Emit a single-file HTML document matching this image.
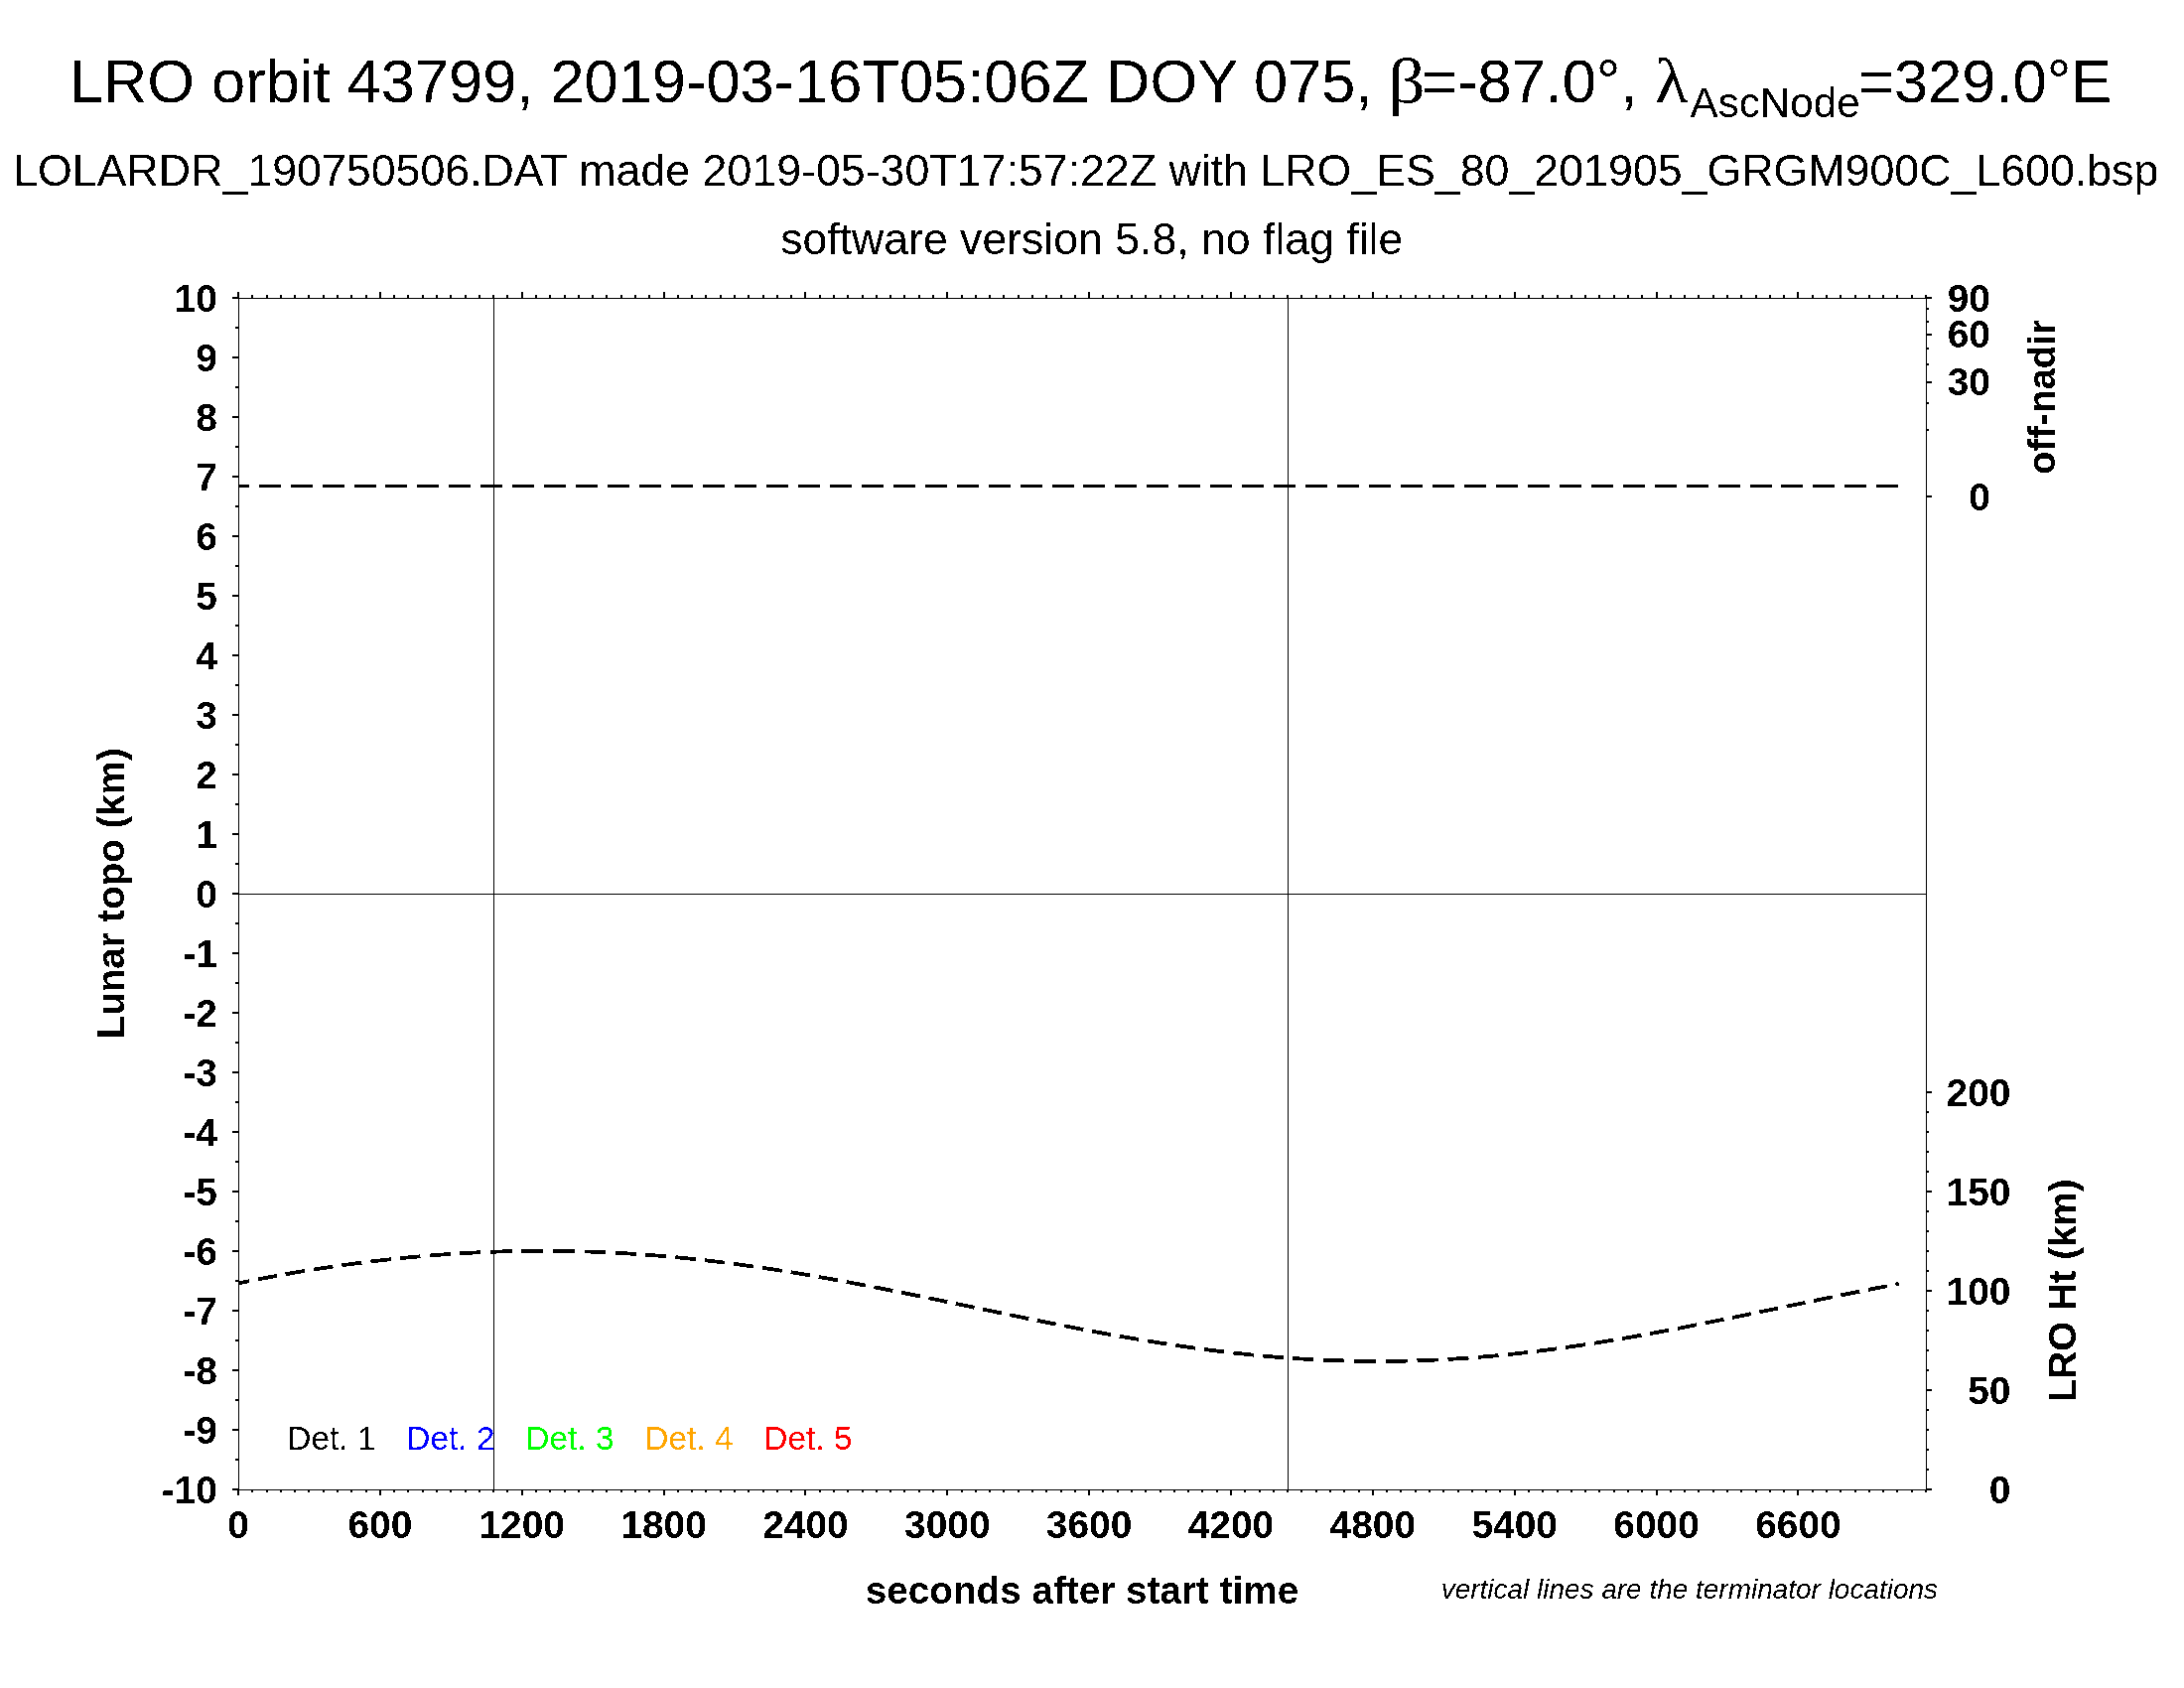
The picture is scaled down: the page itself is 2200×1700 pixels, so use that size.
<!DOCTYPE html>
<html lang="en"><head><meta charset="utf-8">
<title>LRO orbit 43799 LOLA RDR profile</title>
<style>
html,body{margin:0;padding:0;background:#fff;}
body{width:2200px;height:1700px;overflow:hidden;}
svg{display:block;}
text{font-family:"Liberation Sans", sans-serif;fill:#000;}
.b{font-weight:bold;font-size:38.9px;}
.sym{font-family:"Liberation Serif", serif;}
.r{font-size:38.5px;}
</style></head><body>
<svg width="2200" height="1700" viewBox="0 0 2200 1700">
<rect x="0" y="0" width="2200" height="1700" fill="#fff"/>
<g stroke="#000" stroke-width="1" fill="none" shape-rendering="crispEdges">
<rect x="240.5" y="300.5" width="1700" height="1200"/>
<line x1="240.5" y1="900.5" x2="1940.5" y2="900.5"/>
<line x1="497.5" y1="300.5" x2="497.5" y2="1500.5"/>
<line x1="1297.5" y1="300.5" x2="1297.5" y2="1500.5"/>
</g>
<g stroke="#000" stroke-width="2" shape-rendering="crispEdges">
<path d="M240 300.5L240 294M240 1500.5L240 1506M254 300.5L254 297M254 1500.5L254 1503M269 300.5L269 297M269 1500.5L269 1503M283 300.5L283 297M283 1500.5L283 1503M297 300.5L297 297M297 1500.5L297 1503M311 300.5L311 297M311 1500.5L311 1503M326 300.5L326 297M326 1500.5L326 1503M340 300.5L340 297M340 1500.5L340 1503M354 300.5L354 297M354 1500.5L354 1503M369 300.5L369 297M369 1500.5L369 1503M383 300.5L383 294M383 1500.5L383 1506M397 300.5L397 297M397 1500.5L397 1503M411 300.5L411 297M411 1500.5L411 1503M426 300.5L426 297M426 1500.5L426 1503M440 300.5L440 297M440 1500.5L440 1503M454 300.5L454 297M454 1500.5L454 1503M469 300.5L469 297M469 1500.5L469 1503M483 300.5L483 297M483 1500.5L483 1503M497 300.5L497 297M497 1500.5L497 1503M511 300.5L511 297M511 1500.5L511 1503M526 300.5L526 294M526 1500.5L526 1506M540 300.5L540 297M540 1500.5L540 1503M554 300.5L554 297M554 1500.5L554 1503M569 300.5L569 297M569 1500.5L569 1503M583 300.5L583 297M583 1500.5L583 1503M597 300.5L597 297M597 1500.5L597 1503M611 300.5L611 297M611 1500.5L611 1503M626 300.5L626 297M626 1500.5L626 1503M640 300.5L640 297M640 1500.5L640 1503M654 300.5L654 297M654 1500.5L654 1503M669 300.5L669 294M669 1500.5L669 1506M683 300.5L683 297M683 1500.5L683 1503M697 300.5L697 297M697 1500.5L697 1503M711 300.5L711 297M711 1500.5L711 1503M726 300.5L726 297M726 1500.5L726 1503M740 300.5L740 297M740 1500.5L740 1503M754 300.5L754 297M754 1500.5L754 1503M769 300.5L769 297M769 1500.5L769 1503M783 300.5L783 297M783 1500.5L783 1503M797 300.5L797 297M797 1500.5L797 1503M811 300.5L811 294M811 1500.5L811 1506M826 300.5L826 297M826 1500.5L826 1503M840 300.5L840 297M840 1500.5L840 1503M854 300.5L854 297M854 1500.5L854 1503M869 300.5L869 297M869 1500.5L869 1503M883 300.5L883 297M883 1500.5L883 1503M897 300.5L897 297M897 1500.5L897 1503M911 300.5L911 297M911 1500.5L911 1503M926 300.5L926 297M926 1500.5L926 1503M940 300.5L940 297M940 1500.5L940 1503M954 300.5L954 294M954 1500.5L954 1506M969 300.5L969 297M969 1500.5L969 1503M983 300.5L983 297M983 1500.5L983 1503M997 300.5L997 297M997 1500.5L997 1503M1011 300.5L1011 297M1011 1500.5L1011 1503M1026 300.5L1026 297M1026 1500.5L1026 1503M1040 300.5L1040 297M1040 1500.5L1040 1503M1054 300.5L1054 297M1054 1500.5L1054 1503M1069 300.5L1069 297M1069 1500.5L1069 1503M1083 300.5L1083 297M1083 1500.5L1083 1503M1097 300.5L1097 294M1097 1500.5L1097 1506M1111 300.5L1111 297M1111 1500.5L1111 1503M1126 300.5L1126 297M1126 1500.5L1126 1503M1140 300.5L1140 297M1140 1500.5L1140 1503M1154 300.5L1154 297M1154 1500.5L1154 1503M1169 300.5L1169 297M1169 1500.5L1169 1503M1183 300.5L1183 297M1183 1500.5L1183 1503M1197 300.5L1197 297M1197 1500.5L1197 1503M1211 300.5L1211 297M1211 1500.5L1211 1503M1226 300.5L1226 297M1226 1500.5L1226 1503M1240 300.5L1240 294M1240 1500.5L1240 1506M1254 300.5L1254 297M1254 1500.5L1254 1503M1269 300.5L1269 297M1269 1500.5L1269 1503M1283 300.5L1283 297M1283 1500.5L1283 1503M1297 300.5L1297 297M1297 1500.5L1297 1503M1311 300.5L1311 297M1311 1500.5L1311 1503M1326 300.5L1326 297M1326 1500.5L1326 1503M1340 300.5L1340 297M1340 1500.5L1340 1503M1354 300.5L1354 297M1354 1500.5L1354 1503M1369 300.5L1369 297M1369 1500.5L1369 1503M1383 300.5L1383 294M1383 1500.5L1383 1506M1397 300.5L1397 297M1397 1500.5L1397 1503M1411 300.5L1411 297M1411 1500.5L1411 1503M1426 300.5L1426 297M1426 1500.5L1426 1503M1440 300.5L1440 297M1440 1500.5L1440 1503M1454 300.5L1454 297M1454 1500.5L1454 1503M1469 300.5L1469 297M1469 1500.5L1469 1503M1483 300.5L1483 297M1483 1500.5L1483 1503M1497 300.5L1497 297M1497 1500.5L1497 1503M1511 300.5L1511 297M1511 1500.5L1511 1503M1526 300.5L1526 294M1526 1500.5L1526 1506M1540 300.5L1540 297M1540 1500.5L1540 1503M1554 300.5L1554 297M1554 1500.5L1554 1503M1569 300.5L1569 297M1569 1500.5L1569 1503M1583 300.5L1583 297M1583 1500.5L1583 1503M1597 300.5L1597 297M1597 1500.5L1597 1503M1611 300.5L1611 297M1611 1500.5L1611 1503M1626 300.5L1626 297M1626 1500.5L1626 1503M1640 300.5L1640 297M1640 1500.5L1640 1503M1654 300.5L1654 297M1654 1500.5L1654 1503M1669 300.5L1669 294M1669 1500.5L1669 1506M1683 300.5L1683 297M1683 1500.5L1683 1503M1697 300.5L1697 297M1697 1500.5L1697 1503M1711 300.5L1711 297M1711 1500.5L1711 1503M1726 300.5L1726 297M1726 1500.5L1726 1503M1740 300.5L1740 297M1740 1500.5L1740 1503M1754 300.5L1754 297M1754 1500.5L1754 1503M1769 300.5L1769 297M1769 1500.5L1769 1503M1783 300.5L1783 297M1783 1500.5L1783 1503M1797 300.5L1797 297M1797 1500.5L1797 1503M1811 300.5L1811 294M1811 1500.5L1811 1506M1826 300.5L1826 297M1826 1500.5L1826 1503M1840 300.5L1840 297M1840 1500.5L1840 1503M1854 300.5L1854 297M1854 1500.5L1854 1503M1869 300.5L1869 297M1869 1500.5L1869 1503M1883 300.5L1883 297M1883 1500.5L1883 1503M1897 300.5L1897 297M1897 1500.5L1897 1503M1911 300.5L1911 297M1911 1500.5L1911 1503M1926 300.5L1926 297M1926 1500.5L1926 1503M1940 300.5L1940 297M1940 1500.5L1940 1503M240.5 1500L234 1500M240.5 1470L237 1470M240.5 1440L234 1440M240.5 1410L237 1410M240.5 1380L234 1380M240.5 1350L237 1350M240.5 1320L234 1320M240.5 1290L237 1290M240.5 1260L234 1260M240.5 1230L237 1230M240.5 1200L234 1200M240.5 1170L237 1170M240.5 1140L234 1140M240.5 1110L237 1110M240.5 1080L234 1080M240.5 1050L237 1050M240.5 1020L234 1020M240.5 990L237 990M240.5 960L234 960M240.5 930L237 930M240.5 900L234 900M240.5 870L237 870M240.5 840L234 840M240.5 810L237 810M240.5 780L234 780M240.5 750L237 750M240.5 720L234 720M240.5 690L237 690M240.5 660L234 660M240.5 630L237 630M240.5 600L234 600M240.5 570L237 570M240.5 540L234 540M240.5 510L237 510M240.5 480L234 480M240.5 450L237 450M240.5 420L234 420M240.5 390L237 390M240.5 360L234 360M240.5 330L237 330M240.5 300L234 300M1940.5 1500L1946 1500M1940.5 1480L1943 1480M1940.5 1460L1943 1460M1940.5 1440L1943 1440M1940.5 1420L1943 1420M1940.5 1400L1946 1400M1940.5 1380L1943 1380M1940.5 1360L1943 1360M1940.5 1340L1943 1340M1940.5 1320L1943 1320M1940.5 1300L1946 1300M1940.5 1280L1943 1280M1940.5 1260L1943 1260M1940.5 1240L1943 1240M1940.5 1220L1943 1220M1940.5 1200L1946 1200M1940.5 1180L1943 1180M1940.5 1160L1943 1160M1940.5 1140L1943 1140M1940.5 1120L1943 1120M1940.5 1100L1946 1100M1940.5 500L1946 500M1940.5 433L1943 433M1940.5 406L1943 406M1940.5 385L1946 385M1940.5 367L1943 367M1940.5 351L1943 351M1940.5 337L1946 337M1940.5 324L1943 324M1940.5 311L1943 311M1940.5 300L1946 300"/>
</g>
<g stroke="#000" stroke-width="3" fill="none" stroke-dasharray="22 9.955" shape-rendering="crispEdges">
<line x1="240" y1="489.5" x2="1912.2" y2="489.5" stroke-dashoffset="11.3"/>
</g>
<path d="M240.5 1292.31L245.85 1291.21L251.22 1290.13M259.79 1288.43L266.14 1287.21L272.51 1286.01L278.89 1284.83M287.6 1283.27L294.04 1282.15L300.5 1281.05L306.98 1279.97M315.81 1278.55L322.34 1277.53L328.9 1276.53L335.47 1275.56M344.43 1274.28L351.06 1273.37L357.7 1272.48L364.37 1271.62M373.46 1270.49L380.19 1269.7L386.93 1268.92L393.7 1268.18M402.93 1267.22L409.75 1266.54L416.6 1265.89L423.47 1265.27M432.84 1264.48L439.76 1263.93L446.72 1263.42L453.69 1262.94M463.21 1262.33L470.24 1261.92L477.3 1261.55L484.39 1261.21M494.06 1260.81L501.2 1260.55L508.38 1260.33L515.58 1260.15M525.4 1259.96L532.67 1259.86L539.96 1259.8L547.28 1259.78M557.21 1259.82L564.49 1259.89L571.75 1260L578.98 1260.15M588.75 1260.41L595.91 1260.64L603.05 1260.91L610.16 1261.22M619.78 1261.69L626.83 1262.08L633.85 1262.5L640.85 1262.95M650.32 1263.62L657.26 1264.15L664.18 1264.71L671.07 1265.3M680.39 1266.15L687.23 1266.81L694.04 1267.49L700.83 1268.21M710.02 1269.22L716.76 1270L723.48 1270.81L730.17 1271.64M739.23 1272.8L745.88 1273.68L752.51 1274.59L759.13 1275.52M768.07 1276.82L774.64 1277.79L781.19 1278.79L787.72 1279.81M796.57 1281.22L803.06 1282.28L809.54 1283.36L816.01 1284.45M824.76 1285.96L831.19 1287.09L837.61 1288.24L844.01 1289.4M852.69 1290.99L859.07 1292.18L865.44 1293.38L871.79 1294.59M880.41 1296.25L886.74 1297.48L893.07 1298.72L899.38 1299.98M907.95 1301.69L914.25 1302.95L920.55 1304.23L926.83 1305.51M935.37 1307.25L941.64 1308.55L947.92 1309.84L954.19 1311.14M962.7 1312.9L968.97 1314.21L975.24 1315.51L981.51 1316.82M990.01 1318.59L996.28 1319.89L1002.55 1321.19L1008.82 1322.49M1017.34 1324.25L1023.62 1325.54L1029.9 1326.83L1036.19 1328.11M1044.73 1329.84L1051.03 1331.11L1057.34 1332.38L1063.65 1333.63M1072.24 1335.32L1078.57 1336.55L1084.92 1337.78L1091.27 1338.99M1099.91 1340.62L1106.29 1341.81L1112.68 1342.98L1119.09 1344.14M1127.8 1345.69L1134.24 1346.82L1140.69 1347.93L1147.15 1349.02M1155.95 1350.48L1162.46 1351.53L1168.98 1352.56L1175.51 1353.58M1184.42 1354.92L1191 1355.88L1197.6 1356.82L1204.22 1357.74M1213.24 1358.95L1219.91 1359.81L1226.6 1360.65L1233.32 1361.46M1242.47 1362.51L1249.24 1363.25L1256.03 1363.97L1262.85 1364.65M1272.15 1365.53L1279.02 1366.14L1285.93 1366.72L1292.86 1367.26M1302.31 1367.94L1309.3 1368.41L1316.32 1368.83L1323.37 1369.22M1332.99 1369.69L1340.11 1369.99L1347.26 1370.24L1354.43 1370.46M1364.22 1370.69L1371.47 1370.81L1378.75 1370.89L1386.06 1370.93M1395.99 1370.91L1403.28 1370.84L1410.54 1370.73L1417.76 1370.58M1427.52 1370.31L1434.68 1370.06L1441.8 1369.77L1448.9 1369.44M1458.49 1368.93L1465.51 1368.52L1472.51 1368.06L1479.49 1367.57M1488.91 1366.85L1495.82 1366.28L1502.7 1365.68L1509.55 1365.04M1518.82 1364.13L1525.62 1363.42L1532.39 1362.68L1539.14 1361.91M1548.26 1360.82L1554.96 1359.99L1561.63 1359.13L1568.28 1358.24M1577.27 1357L1583.87 1356.06L1590.45 1355.1L1597.02 1354.11M1605.9 1352.74L1612.41 1351.71L1618.92 1350.66L1625.4 1349.59M1634.18 1348.1L1640.63 1346.99L1647.07 1345.87L1653.49 1344.73M1662.18 1343.15L1668.57 1341.98L1674.95 1340.79L1681.32 1339.59M1689.95 1337.95L1696.29 1336.72L1702.63 1335.49L1708.95 1334.25M1717.53 1332.55L1723.84 1331.29L1730.14 1330.02L1736.44 1328.75M1744.98 1327.01L1751.26 1325.73L1757.54 1324.44L1763.82 1323.15M1772.34 1321.39L1778.61 1320.09L1784.89 1318.79L1791.16 1317.49M1799.67 1315.73L1805.94 1314.43L1812.21 1313.13L1818.49 1311.83M1827.01 1310.08L1833.29 1308.79L1839.57 1307.5L1845.85 1306.21M1854.39 1304.47L1860.68 1303.2L1866.98 1301.93L1873.29 1300.66M1881.85 1298.95L1888.17 1297.7L1894.49 1296.45L1900.82 1295.21M1909.42 1293.54L1912.6 1292.93" stroke="#000" stroke-width="3.8" fill="none" shape-rendering="crispEdges"/>
<defs><filter id="hard" filterUnits="userSpaceOnUse" x="0" y="0" width="2200" height="1700" color-interpolation-filters="sRGB"><feComponentTransfer><feFuncA type="discrete" tableValues="0 1"/></feComponentTransfer></filter></defs>
<g filter="url(#hard)">
<text x="69.8" y="103" font-size="61.4">LRO orbit 43799, 2019-03-16T05:06Z DOY 075,</text>
<text class="sym" transform="translate(1397.9 103.4) scale(1.169 1)" font-size="63.5">β</text>
<text x="1432.1" y="103" font-size="61.4">=-87.0°,</text>
<text class="sym" transform="translate(1667 103.4) scale(1.085 1)" font-size="64">λ</text>
<text x="1702.5" y="118.3" font-size="42.2">AscNode</text>
<text x="1872.2" y="103" font-size="61.4">=329.0°E</text>
<text x="13.2" y="186.9" font-size="44.72">LOLARDR_190750506.DAT made 2019-05-30T17:57:22Z with LRO_ES_80_201905_GRGM900C_L600.bsp</text>
<text x="786.2" y="255.8" font-size="44.6">software version 5.8, no flag file</text>
<text class="b" x="219" y="1513.7" text-anchor="end">-10</text>
<text class="b" x="219" y="1453.7" text-anchor="end">-9</text>
<text class="b" x="219" y="1393.7" text-anchor="end">-8</text>
<text class="b" x="219" y="1333.7" text-anchor="end">-7</text>
<text class="b" x="219" y="1273.7" text-anchor="end">-6</text>
<text class="b" x="219" y="1213.7" text-anchor="end">-5</text>
<text class="b" x="219" y="1153.7" text-anchor="end">-4</text>
<text class="b" x="219" y="1093.7" text-anchor="end">-3</text>
<text class="b" x="219" y="1033.7" text-anchor="end">-2</text>
<text class="b" x="219" y="973.7" text-anchor="end">-1</text>
<text class="b" x="219" y="913.7" text-anchor="end">0</text>
<text class="b" x="219" y="853.7" text-anchor="end">1</text>
<text class="b" x="219" y="793.7" text-anchor="end">2</text>
<text class="b" x="219" y="733.7" text-anchor="end">3</text>
<text class="b" x="219" y="673.7" text-anchor="end">4</text>
<text class="b" x="219" y="613.7" text-anchor="end">5</text>
<text class="b" x="219" y="553.7" text-anchor="end">6</text>
<text class="b" x="219" y="493.7" text-anchor="end">7</text>
<text class="b" x="219" y="433.7" text-anchor="end">8</text>
<text class="b" x="219" y="373.7" text-anchor="end">9</text>
<text class="b" x="219" y="313.7" text-anchor="end">10</text>
<text class="b" x="240" y="1549" text-anchor="middle">0</text>
<text class="b" x="382.86" y="1549" text-anchor="middle">600</text>
<text class="b" x="525.71" y="1549" text-anchor="middle">1200</text>
<text class="b" x="668.57" y="1549" text-anchor="middle">1800</text>
<text class="b" x="811.43" y="1549" text-anchor="middle">2400</text>
<text class="b" x="954.29" y="1549" text-anchor="middle">3000</text>
<text class="b" x="1097.14" y="1549" text-anchor="middle">3600</text>
<text class="b" x="1240" y="1549" text-anchor="middle">4200</text>
<text class="b" x="1382.86" y="1549" text-anchor="middle">4800</text>
<text class="b" x="1525.71" y="1549" text-anchor="middle">5400</text>
<text class="b" x="1668.57" y="1549" text-anchor="middle">6000</text>
<text class="b" x="1811.43" y="1549" text-anchor="middle">6600</text>
<text class="b" x="2025.5" y="1513.7" text-anchor="end">0</text>
<text class="b" x="2025.5" y="1413.7" text-anchor="end">50</text>
<text class="b" x="2025.5" y="1313.7" text-anchor="end">100</text>
<text class="b" x="2025.5" y="1213.7" text-anchor="end">150</text>
<text class="b" x="2025.5" y="1113.7" text-anchor="end">200</text>
<text class="b" x="2005" y="513.7" text-anchor="end">0</text>
<text class="b" x="2005" y="398.23" text-anchor="end">30</text>
<text class="b" x="2005" y="350.4" text-anchor="end">60</text>
<text class="b" x="2005" y="313.7" text-anchor="end">90</text>
<text class="b" x="871.8" y="1615.4" style="font-size:38.7px">seconds after start time</text>
<text class="b r" transform="translate(125.1 899.8) rotate(-90)" text-anchor="middle">Lunar topo (km)</text>
<text class="b r" transform="translate(2091.1 1299.8) rotate(-90)" text-anchor="middle">LRO Ht (km)</text>
<text class="b r" transform="translate(2070.1 400) rotate(-90)" text-anchor="middle">off-nadir</text>
<text x="1451.7" y="1609.6" font-size="27.96" font-style="italic">vertical lines are the terminator locations</text>
<text x="289.2" y="1459.7" font-size="33.5" fill="#000000" style="fill:#000000">Det. 1</text>
<text x="409.2" y="1459.7" font-size="33.5" fill="#0000ff" style="fill:#0000ff">Det. 2</text>
<text x="529.2" y="1459.7" font-size="33.5" fill="#00ff00" style="fill:#00ff00">Det. 3</text>
<text x="649.2" y="1459.7" font-size="33.5" fill="#ffa500" style="fill:#ffa500">Det. 4</text>
<text x="769.2" y="1459.7" font-size="33.5" fill="#ff0000" style="fill:#ff0000">Det. 5</text>
</g>
</svg>
</body></html>
